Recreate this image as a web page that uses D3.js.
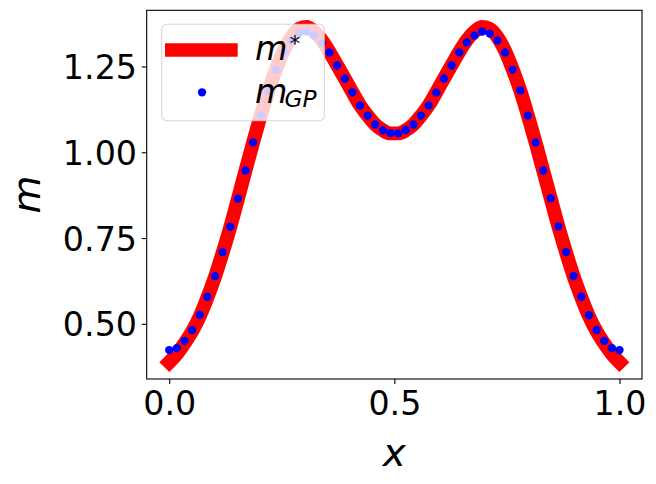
<!DOCTYPE html>
<html>
<head>
<meta charset="utf-8">
<script src="https://cdn.jsdelivr.net/npm/d3@7"></script>
<style>
    body { margin: 0; background: #fff; }
    svg { display: block; font-family: 'DejaVu Sans', sans-serif; }
</style>
</head>
<body>
<svg id="chart" width="656" height="484"></svg>
<script>

// sample points, x = linspace(0, 1, 60)
let xGrid = [
    0.0000, 0.0169, 0.0339, 0.0508, 0.0678, 0.0847, 0.1017, 0.1186, 0.1356, 0.1525,
    0.1695, 0.1864, 0.2034, 0.2203, 0.2373, 0.2542, 0.2712, 0.2881, 0.3051, 0.3220,
    0.3390, 0.3559, 0.3729, 0.3898, 0.4068, 0.4237, 0.4407, 0.4576, 0.4746, 0.4915,
    0.5085, 0.5254, 0.5424, 0.5593, 0.5763, 0.5932, 0.6102, 0.6271, 0.6441, 0.6610,
    0.6780, 0.6949, 0.7119, 0.7288, 0.7458, 0.7627, 0.7797, 0.7966, 0.8136, 0.8305,
    0.8475, 0.8644, 0.8814, 0.8983, 0.9153, 0.9322, 0.9492, 0.9661, 0.9831, 1.0000
];

// true field m*
let mStar = [
    0.388, 0.412, 0.443, 0.478, 0.522, 0.576, 0.637, 0.707, 0.782, 0.864,
    0.947, 1.029, 1.107, 1.178, 1.242, 1.296, 1.336, 1.360, 1.365, 1.352,
    1.327, 1.293, 1.254, 1.215, 1.175, 1.137, 1.107, 1.081, 1.064, 1.055,
    1.055, 1.064, 1.081, 1.107, 1.137, 1.175, 1.215, 1.254, 1.293, 1.327,
    1.352, 1.365, 1.360, 1.336, 1.296, 1.242, 1.180, 1.107, 1.029, 0.947,
    0.865, 0.783, 0.708, 0.638, 0.577, 0.522, 0.478, 0.443, 0.412, 0.388
];

// GP estimate m_GP
let mGP = [
    0.4235, 0.429, 0.4505, 0.482, 0.526, 0.579, 0.639, 0.709, 0.783, 0.865,
    0.947, 1.029, 1.107, 1.178, 1.241, 1.291, 1.325, 1.346, 1.352, 1.341,
    1.319, 1.291, 1.253, 1.215, 1.175, 1.1365, 1.107, 1.081, 1.064, 1.056,
    1.055, 1.065, 1.081, 1.107, 1.1365, 1.174, 1.215, 1.253, 1.291, 1.320,
    1.340, 1.352, 1.346, 1.326, 1.291, 1.241, 1.180, 1.107, 1.029, 0.947,
    0.866, 0.784, 0.709, 0.639, 0.579, 0.525, 0.482, 0.4505, 0.429, 0.4235
];

let xTicks = [0.0, 0.5, 1.0];
let yTicks = [0.50, 0.75, 1.00, 1.25];

let Axes = {
    Left: 146.7,
    Right: 642,
    Top: 10.3,
    Bottom: 379
};

let TickFont = 33.3;
let LabelFont = 38.9;

let svg = d3.select('#chart');

// matplotlib style autoscale: 5% margins
let yMin = d3.min([d3.min(mStar), d3.min(mGP)]);
let yMax = d3.max([d3.max(mStar), d3.max(mGP)]);
let yPad = (yMax - yMin) * 0.05;

let xScale = d3
    .scaleLinear()
    .domain([-0.05, 1.05])
    .range([Axes.Left, Axes.Right]);

let yScale = d3
    .scaleLinear()
    .domain([yMin - yPad, yMax + yPad])
    .range([Axes.Bottom, Axes.Top]);

let linePts = xGrid.map((x, i) => [x, mStar[i]]);
let dotPts = xGrid.map((x, i) => [x, mGP[i]]);

let line = d3
    .line()
    .x(d => xScale(d[0]))
    .y(d => yScale(d[1]))
    .curve(d3.curveMonotoneX);

svg.append('path')
    .datum(linePts)
    .attr('d', line)
    .attr('fill', 'none')
    .attr('stroke', '#ff0000')
    .attr('stroke-width', 13.9)
    .attr('stroke-linecap', 'square')
    .attr('stroke-linejoin', 'round');

svg.append('g')
    .selectAll('circle')
    .data(dotPts)
    .join('circle')
    .attr('cx', d => xScale(d[0]))
    .attr('cy', d => yScale(d[1]))
    .attr('r', 4.17)
    .attr('fill', '#0000ff');

// axes
let xAxis = svg.append('g')
    .attr('transform', `translate(0,${Axes.Bottom})`)
    .call(d3.axisBottom(xScale)
        .tickValues(xTicks)
        .tickFormat(d3.format('.1f'))
        .tickSize(4.9)
        .tickPadding(7.5));

let yAxis = svg.append('g')
    .attr('transform', `translate(${Axes.Left},0)`)
    .call(d3.axisLeft(yScale)
        .tickValues(yTicks)
        .tickFormat(d3.format('.2f'))
        .tickSize(4.9)
        .tickPadding(4.8));

[xAxis, yAxis].forEach(ax => {
    ax.select('.domain').remove();
    ax.selectAll('line')
        .attr('stroke', '#000')
        .attr('stroke-width', 1.1);
    ax.selectAll('text')
        .attr('fill', '#000')
        .style('font-family', "'DejaVu Sans', sans-serif")
        .style('font-size', TickFont + 'px');
});
yAxis.selectAll('text').attr('dy', '0.36em');

// spines
svg.append('rect')
    .attr('x', Axes.Left)
    .attr('y', Axes.Top)
    .attr('width', Axes.Right - Axes.Left)
    .attr('height', Axes.Bottom - Axes.Top)
    .attr('fill', 'none')
    .attr('stroke', '#000')
    .attr('stroke-width', 1.1);

// axis labels
svg.append('text')
    .attr('x', (Axes.Left + Axes.Right) / 2)
    .attr('y', 465.7)
    .attr('text-anchor', 'middle')
    .style('font-size', LabelFont + 'px')
    .style('font-style', 'italic')
    .text('x');

svg.append('text')
    .attr('transform', `translate(40,${(Axes.Top + Axes.Bottom) / 2}) rotate(-90)`)
    .attr('text-anchor', 'middle')
    .style('font-size', LabelFont + 'px')
    .style('font-style', 'italic')
    .text('m');

// legend
let legend = svg.append('g');

legend.append('rect')
    .attr('x', 161.7)
    .attr('y', 24.3)
    .attr('width', 162.6)
    .attr('height', 96.4)
    .attr('rx', 5)
    .attr('fill', '#fff')
    .attr('fill-opacity', 0.8)
    .attr('stroke', '#cccccc')
    .attr('stroke-opacity', 0.8)
    .attr('stroke-width', 1.1);

legend.append('line')
    .attr('x1', 165)
    .attr('x2', 237.7)
    .attr('y1', 50)
    .attr('y2', 50)
    .attr('stroke', '#ff0000')
    .attr('stroke-width', 13.4);

legend.append('circle')
    .attr('cx', 202)
    .attr('cy', 92.3)
    .attr('r', 4.17)
    .attr('fill', '#0000ff');

let t1 = legend.append('text')
    .attr('x', 255)
    .attr('y', 60)
    .style('font-size', TickFont + 'px')
    .style('font-style', 'italic');
t1.append('tspan').text('m');
t1.append('tspan')
    .attr('dx', 2)
    .attr('dy', -9)
    .style('font-size', (TickFont * 0.65) + 'px')
    .style('font-style', 'normal')
    .text('*');

let t2 = legend.append('text')
    .attr('x', 255)
    .attr('y', 102.7)
    .style('font-size', TickFont + 'px')
    .style('font-style', 'italic');
t2.append('tspan').text('m');
t2.append('tspan')
    .attr('dx', -3)
    .attr('dy', 4.6)
    .style('font-size', (TickFont * 0.7) + 'px')
    .text('GP');

</script>
</body>
</html>
